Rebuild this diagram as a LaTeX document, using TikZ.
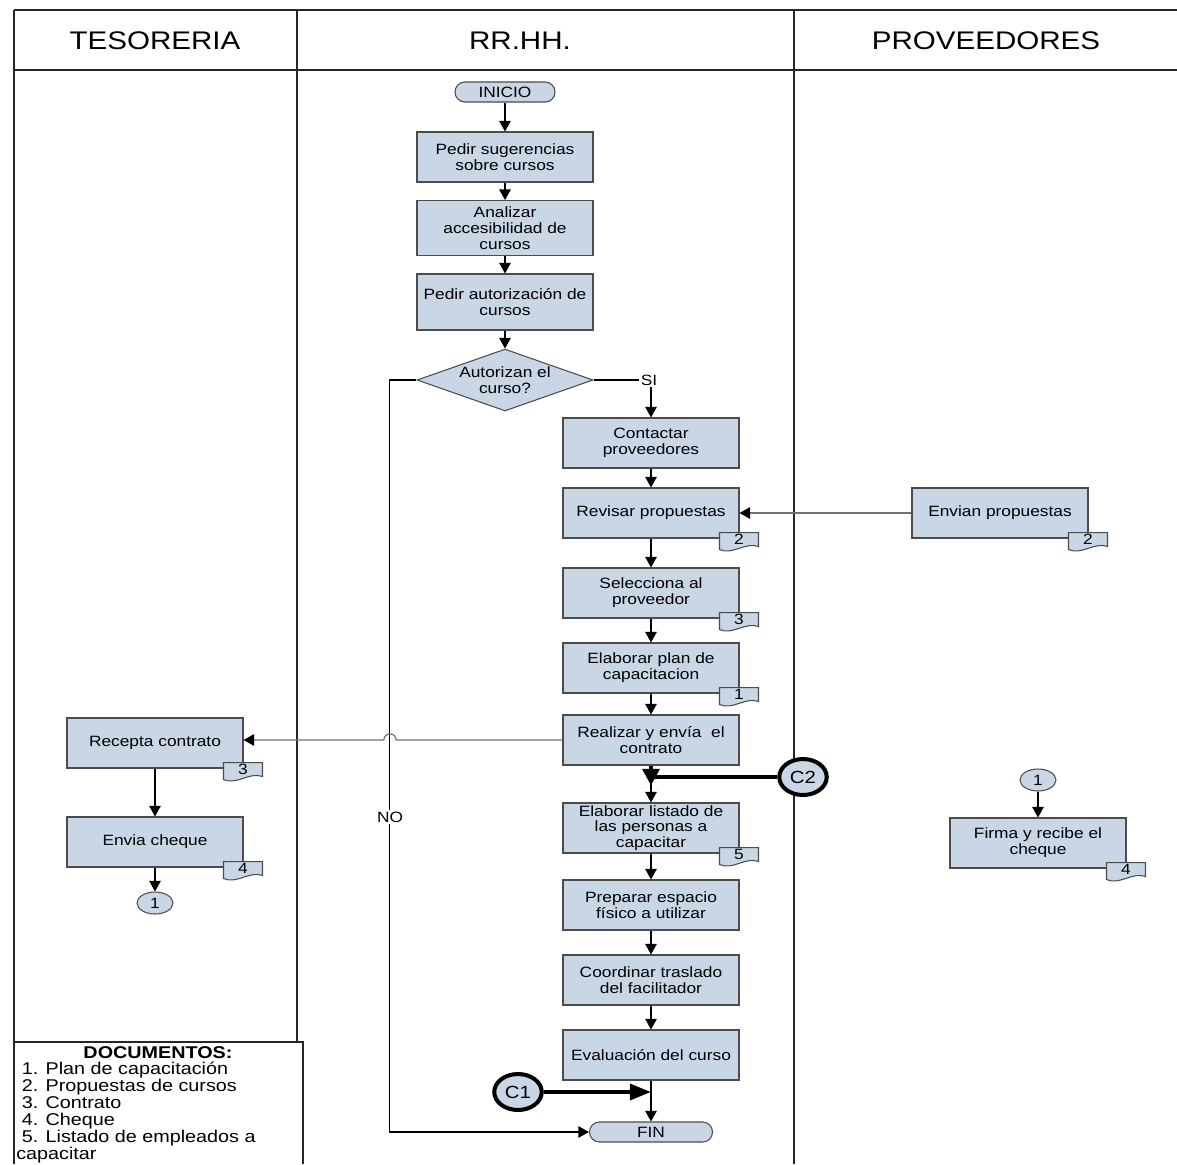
\documentclass[tikz,border=0pt]{standalone}
\usepackage{fontspec}
\setmainfont{Liberation Sans}[FakeStretch=1.16]
\usetikzlibrary{shapes.geometric,arrows.meta}

\definecolor{azulcaja}{RGB}{200,214,230}

\tikzset{
	carril/.style={line width=0.85pt, draw=black!85},
	titulo/.style={font=\fontsize{14.5}{17}\selectfont},
	caja/.style={draw=black!70, line width=0.6pt, fill=azulcaja, minimum width=3.52cm, minimum height=1cm, inner sep=1pt, align=center, font=\fontsize{8.5}{9}\selectfont},
	term/.style={draw=black!70, line width=0.6pt, fill=azulcaja, rounded corners=5.6pt, minimum height=0.4cm, inner sep=0pt, font=\fontsize{8.5}{9}\selectfont},
	decision/.style={diamond, draw=black!70, line width=0.6pt, fill=azulcaja, aspect=2.8, minimum width=3.52cm, minimum height=1.24cm, inner sep=-1pt, align=center, font=\fontsize{8.5}{9}\selectfont},
	conec/.style={ellipse, draw=black!70, line width=0.6pt, fill=azulcaja, minimum width=0.72cm, minimum height=0.44cm, inner sep=0pt, font=\fontsize{8.5}{9}\selectfont},
	conecg/.style={ellipse, draw=black, line width=2.3pt, fill=azulcaja, minimum width=0.95cm, minimum height=0.72cm, inner sep=0pt, font=\fontsize{10}{11}\selectfont},
	flujo/.style={draw=black, line width=0.7pt, -{Triangle[length=6pt,width=6.5pt,color=black]}},
	flujog/.style={flujo, draw=black!55},
	grueso/.style={draw=black, line width=2.3pt},
	etiq/.style={fill=white, inner sep=1pt, font=\fontsize{8.5}{9}\selectfont},
	hojita/.style={draw=black!70, line width=0.6pt, fill=azulcaja},
}

% documento pegado a la esquina de una caja
\newcommand{\hoja}[2]{%
	\begin{scope}[shift={(#1.south east)}]
		\draw[hojita] (-20,-6) -- (19,-6) -- (19,8) .. controls (6,3) and (-7,17) .. (-20,11) -- cycle;
		\node[font=\fontsize{8.5}{9}\selectfont, inner sep=0pt] (#1doc) at (-0.5,1) {#2};
	\end{scope}}

\begin{document}
\begin{tikzpicture}[x=0.02cm, y=-0.02cm]
	\useasboundingbox (0,0) rectangle (1177,1164);
	% carriles
	\draw[carril] (14,10) -- (1177,10);
	\draw[carril] (14,70) -- (1177,70);
	\draw[carril] (14,10) -- (14,1164);
	\draw[carril] (297,10) -- (297,1042);
	\draw[carril] (794,10) -- (794,1164);
	\draw[carril] (14,1042) -- (303,1042) -- (303,1164);
	\node[titulo] (tes) at (155,41) {TESORERIA};
	\node[titulo] (rrhh) at (520,41) {RR.HH.};
	\node[titulo] (prov) at (986,41) {PROVEEDORES};

	% RR.HH.
	\node[term, minimum width=2cm] (ini) at (505,92) {INICIO};
	\node[caja] (p1) at (505,157) {Pedir sugerencias\\sobre cursos};
	\node[caja, minimum height=1.1cm] (p2) at (505,228) {Analizar\\accesibilidad de\\cursos};
	\node[caja, minimum height=1.12cm] (p3) at (505,302) {Pedir autorización de\\cursos};
	\node[decision] (dec) at (505,380) {Autorizan el\\curso?};
	\node[caja] (con) at (651,443) {Contactar\\proveedores};
	\node[caja] (rev) at (651,513) {Revisar propuestas};
	\node[caja] (sel) at (651,593) {Selecciona al\\proveedor};
	\node[caja] (ela) at (651,668) {Elaborar plan de\\capacitacion};
	\node[caja] (rea) at (651,740) {Realizar y envía\ \ el\\contrato};
	\node[caja] (lis) at (651,828) {Elaborar listado de\\las personas a\\capacitar};
	\node[caja] (pre) at (651,905) {Preparar espacio\\físico a utilizar};
	\node[caja] (coo) at (651,980) {Coordinar traslado\\del facilitador};
	\node[caja] (eva) at (651,1055) {Evaluación del curso};
	\node[term, minimum width=2.46cm] (fin) at (651,1132) {FIN};
	\node[conecg] (c1) at (518,1092) {C1};
	\node[conecg] (c2) at (803,777) {C2};

	% TESORERIA
	\node[caja] (rec) at (155,743) {Recepta contrato};
	\node[caja] (che) at (155,842) {Envia cheque};
	\node[conec] (k1) at (155,903) {1};

	% PROVEEDORES
	\node[caja] (envp) at (1000,513) {Envian propuestas};
	\node[conec] (k2) at (1038,780) {1};
	\node[caja] (fir) at (1038,843) {Firma y recibe el\\cheque};

	% flechas
	\foreach \a/\b in {ini/p1,p1/p2,p2/p3,p3/dec,con/rev,rev/sel,sel/ela,ela/rea,rea/lis,lis/pre,pre/coo,coo/eva,eva/fin,rec/che,che/k1,k2/fir}
		\draw[flujo] (\a) -- (\b);
	\draw[flujo] (dec.east) -| (con);
	\draw[flujo] (dec.west) -- ++(-27,0) |- (fin.west);
	\draw[flujog] (envp) -- (rev);
	\node[etiq] (si) at (649,380) {SI};
	\node[etiq] (no) at (390,817) {NO};
	\coordinate (salto) at (rea.west -| no);
	\draw[flujog] (rea.west) -- ([xshift=3.5pt]salto) arc[start angle=0, end angle=180, radius=3.5pt] -- (rec.east |- salto);
	\draw[grueso, -{Triangle[length=12pt,width=9pt]}] (c1) -- (c1 -| eva.south);
	\draw[grueso] (c2) -- (c2 -| rea.south);
	\draw[grueso, -{Triangle[length=9.5pt,width=9.5pt]}] (rea.south) -- ++(0,20);

	% documentos
	\hoja{rev}{2}
	\hoja{sel}{3}
	\hoja{ela}{1}
	\hoja{lis}{5}
	\hoja{rec}{3}
	\hoja{che}{4}
	\hoja{envp}{2}
	\hoja{fir}{4}

	\node[font=\fontsize{9.7}{9.6}\selectfont\bfseries] (doct) at (158,1053) {DOCUMENTOS:};
	\node[anchor=north west, align=left, inner sep=0pt, font=\fontsize{9.7}{9.6}\selectfont] (docl) at (16,1062)
		{\ 1. Plan de capacitación\\ \ 2. Propuestas de cursos\\ \ 3. Contrato\\ \ 4. Cheque\\ \ 5. Listado de empleados a\\capacitar};
\end{tikzpicture}
\end{document}
